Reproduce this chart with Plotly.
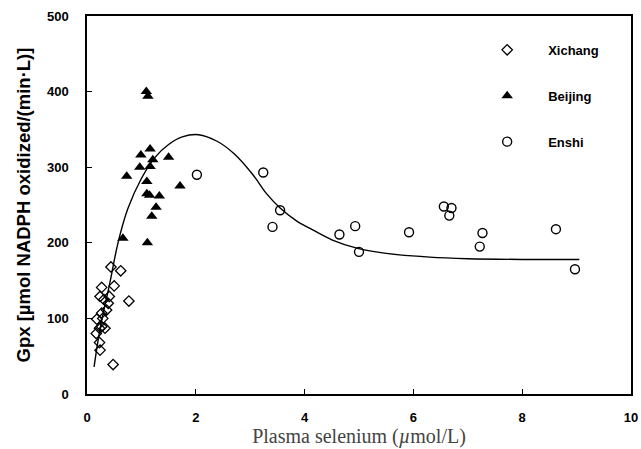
import plotly.graph_objects as go

# Xichang (open diamonds)
xichang_x = [0.44, 0.62, 0.27, 0.50, 0.24, 0.41, 0.31, 0.77, 0.39, 0.36, 0.27, 0.18, 0.29, 0.27, 0.33, 0.23, 0.17, 0.23, 0.24, 0.48]
xichang_y = [168, 163, 141, 143, 129, 129, 125, 123, 120, 111, 107, 99, 100, 89, 87, 87, 80, 68, 58, 39]

# Beijing (filled triangles)
beijing_x = [1.09, 1.12, 1.16, 0.99, 1.50, 1.21, 0.97, 1.16, 0.73, 1.10, 1.71, 1.10, 1.15, 1.33, 1.27, 1.19, 0.66, 1.11]
beijing_y = [400, 394, 324, 316, 313, 310, 300, 301, 288, 281, 275, 265, 263, 262, 247, 235, 206, 200]

# Enshi (open circles)
enshi_x = [2.02, 3.24, 3.55, 3.41, 4.64, 4.93, 5.00, 5.92, 6.56, 6.70, 6.66, 7.27, 7.22, 8.62, 8.97]
enshi_y = [290, 293, 243, 221, 211, 222, 188, 214, 248, 246, 236, 213, 195, 218, 165]

# Fitted curve
curve_x = [0.13, 0.25, 0.42, 0.57, 0.75, 1.0, 1.25, 1.5, 1.75, 2.05, 2.4, 2.7, 3.05, 3.3, 3.55, 3.85, 4.15, 4.5, 4.96, 5.5, 6.3, 7.0, 8.0, 9.05]
curve_y = [36, 90, 147, 200, 245, 285, 313, 330, 340, 343, 334, 318, 290, 265, 246, 229, 217, 204, 193, 186, 181, 179, 178, 178]

x_ticks = [0, 2, 4, 6, 8, 10]
y_ticks = [0, 100, 200, 300, 400, 500]

fig = go.Figure()
fig.add_trace(go.Scatter(x=curve_x, y=curve_y, mode="lines", line=dict(color="black", width=1.4, shape="spline"),
                         showlegend=False, hoverinfo="skip"))
fig.add_trace(go.Scatter(x=xichang_x, y=xichang_y, mode="markers", name="Xichang", legendgroup="a",
                         marker=dict(symbol="diamond-open", size=8, color="black", line=dict(width=1.3))))
fig.add_trace(go.Scatter(x=beijing_x, y=beijing_y, mode="markers", name="Beijing", legendgroup="b",
                         marker=dict(symbol="triangle-up", size=10, color="black")))
fig.add_trace(go.Scatter(x=enshi_x, y=enshi_y, mode="markers", name="Enshi", legendgroup="c",
                         marker=dict(symbol="circle-open", size=9, color="black", line=dict(width=1.4))))

tickfont = dict(family="Liberation Sans", size=13, color="black", weight="bold")
fig.update_layout(
    width=641, height=449,
    margin=dict(l=87, r=10, t=16, b=55),
    paper_bgcolor="white", plot_bgcolor="white",
    legend=dict(x=0.697, y=0.95, xanchor="left", yanchor="top", traceorder="grouped", itemwidth=72,
                tracegroupgap=26, font=dict(family="Liberation Sans", size=13, color="black", weight="bold"),
                bgcolor="rgba(0,0,0,0)"),
    xaxis=dict(range=[0, 10], tickvals=x_ticks, ticks="inside", ticklen=5, tickcolor="black",
               showline=True, linecolor="black", linewidth=1.5, mirror=True, showgrid=False, zeroline=False,
               tickfont=tickfont, ticklabelstandoff=11, automargin=False,
               title=dict(text="Plasma selenium (<i>µ</i>mol/L)", standoff=5,
                          font=dict(family="Liberation Serif", size=20, color="#444"))),
    yaxis=dict(range=[0, 500], tickvals=y_ticks, ticks="inside", ticklen=5, tickcolor="black",
               showline=True, linecolor="black", linewidth=1.5, mirror=True, showgrid=False, zeroline=False,
               tickfont=tickfont, ticklabelstandoff=14, automargin=False,
               title=dict(text="Gpx [µmol NADPH oxidized/(min·L)]", standoff=11,
                          font=dict(family="Liberation Sans", size=18.5, color="black", weight="bold"))),
)
fig.write_html("out.html")
